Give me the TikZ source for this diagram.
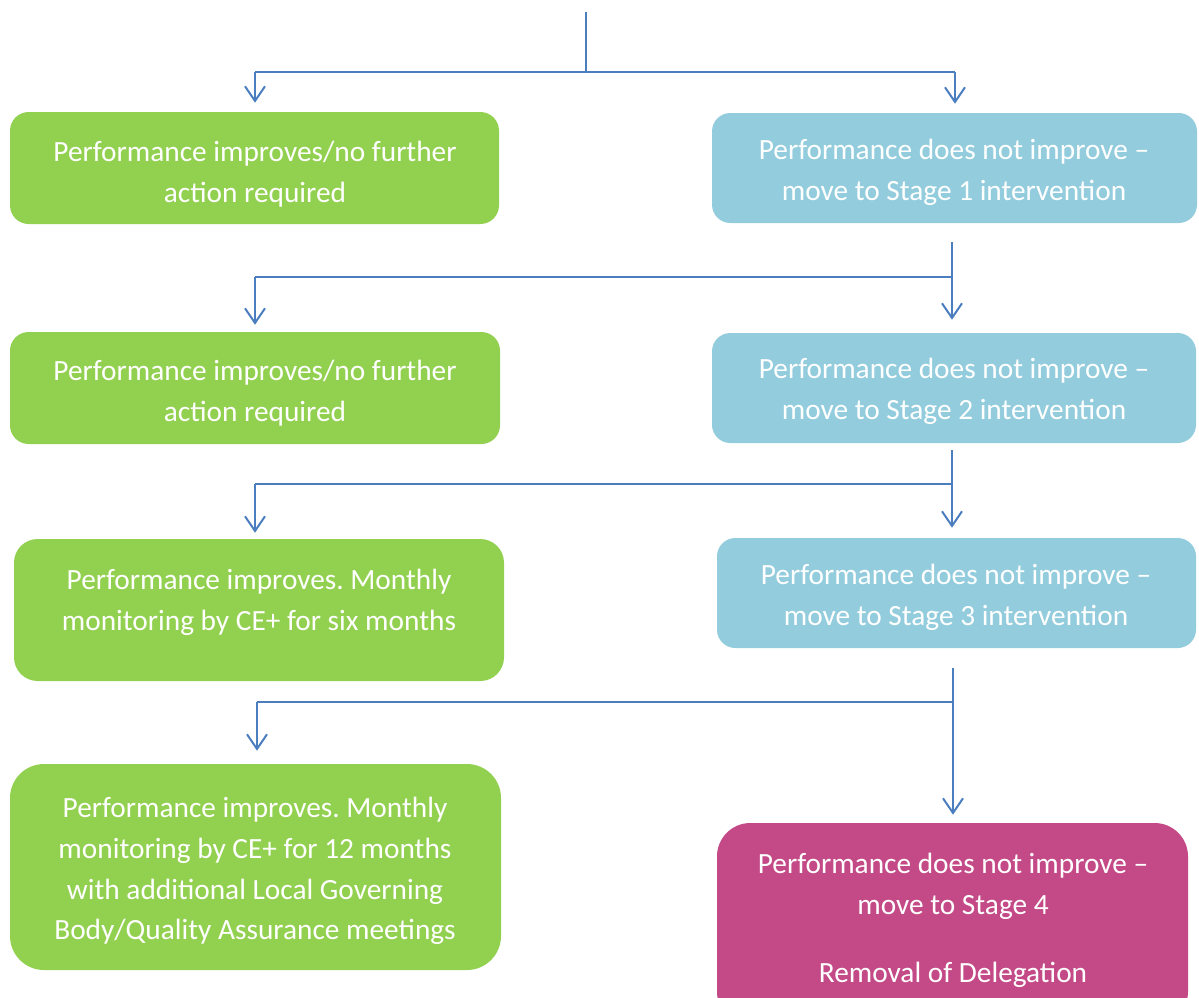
\documentclass[tikz,border=0pt]{standalone}
\usepackage{fontspec}
\setmainfont{Carlito}
\usetikzlibrary{arrows.meta}
\definecolor{lgreen}{HTML}{92D050}
\definecolor{lblue}{HTML}{93CDDD}
\definecolor{lmag}{HTML}{C34A87}
\definecolor{lline}{HTML}{4A7EBF}
\tikzset{
  box/.style={draw=none, inner sep=0pt, rectangle},
  gbox/.style={box, fill=lgreen},
  bbox/.style={box, fill=lblue},
  mbox/.style={box, fill=lmag},
  txt/.style={text=white, align=center, inner sep=0pt, font=\fontsize{22}{30.5}\selectfont\frenchspacing},
  conn/.style={draw=lline, line width=1.5pt},
  arr/.style={conn, -{Straight Barb[length=11pt, width=15pt, line width=1.5pt]}},
}
\begin{document}
\begin{tikzpicture}[x=0.75pt, y=-0.75pt]
\useasboundingbox (0,0) rectangle (1199,997);
\clip (0,0) rectangle (1199,997);
% boxes
\node[gbox, minimum width=366.75pt, minimum height=84pt, rounded corners=14pt] (g1) at (254.5,168) {};
\node[bbox, minimum width=363.75pt, minimum height=82.5pt, rounded corners=13.75pt] (b1) at (954.5,168) {};
\node[gbox, minimum width=367.5pt, minimum height=84pt, rounded corners=14pt] (g2) at (255,388) {};
\node[bbox, minimum width=363pt, minimum height=82.5pt, rounded corners=13.75pt] (b2) at (954,388) {};
\node[gbox, minimum width=367.5pt, minimum height=106.5pt, rounded corners=17.75pt] (g3) at (259,610) {};
\node[bbox, minimum width=359.25pt, minimum height=82.5pt, rounded corners=13.75pt] (b3) at (956.5,593) {};
\node[gbox, minimum width=368.25pt, minimum height=154.5pt, rounded corners=25.5pt] (g4) at (255.5,867) {};
\node[mbox, minimum width=353.25pt, minimum height=151.5pt, rounded corners=25pt] (m) at (952.5,924) {};
% texts
\node[txt] (g1t) at (255,174) {Performance improves/no further\\action required};
\node[txt] (b1t) at (954,172) {Performance does not improve –\\move to Stage 1 intervention};
\node[txt] (g2t) at (255,393) {Performance improves/no further\\action required};
\node[txt] (b2t) at (954,391) {Performance does not improve –\\move to Stage 2 intervention};
\node[txt] (g3t) at (259,602) {Performance improves. Monthly\\monitoring by CE+ for six months};
\node[txt] (b3t) at (956,597) {Performance does not improve –\\move to Stage 3 intervention};
\node[txt] (g4t) at (255,871) {Performance improves. Monthly\\monitoring by CE+ for 12 months\\with additional Local Governing\\Body/Quality Assurance meetings};
\node[txt] (mt) at (953,920.5) {Performance does not improve –\\move to Stage 4\\[20.5pt]Removal of Delegation};
% level 0
\coordinate (top) at (585.5,12);
\coordinate (j0) at (585.5,72);
\coordinate (l0) at (255,72);
\coordinate (r0) at (955,72);
\draw[conn] (top) -- (j0);
\draw[conn] (l0) -- (r0);
\draw[arr, shorten >=6.75pt] (l0) -- (l0 |- g1.north);
\draw[arr, shorten >=6.75pt] (r0) -- (r0 |- b1.north);
% level 1
\coordinate (s1) at (952,242);
\coordinate (j1) at (255,277);
\draw[arr, shorten >=9.75pt] (s1) -- (s1 |- b2.north);
\draw[conn] (s1 |- j1) -- (j1);
\draw[arr, shorten >=5.25pt] (j1) -- (j1 |- g2.north);
% level 2
\coordinate (s2) at (952,450);
\coordinate (j2) at (255,484);
\draw[arr, shorten >=7.5pt] (s2) -- (s2 |- b3.north);
\draw[conn] (s2 |- j2) -- (j2);
\draw[arr, shorten >=4.5pt] (j2) -- (j2 |- g3.north);
% level 3
\coordinate (s3) at (953,668);
\coordinate (j3) at (257,702);
\draw[arr, shorten >=6pt] (s3) -- (s3 |- m.north);
\draw[conn] (s3 |- j3) -- (j3);
\draw[arr, shorten >=9.75pt] (j3) -- (j3 |- g4.north);
\end{tikzpicture}
\end{document}
